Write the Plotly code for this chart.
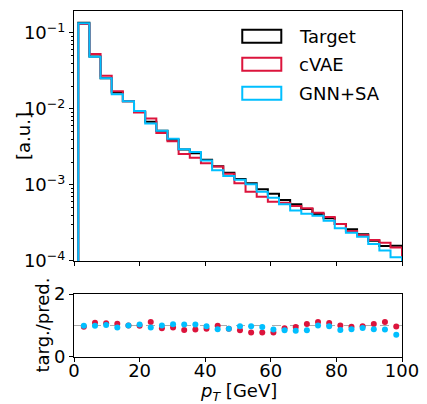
import plotly.graph_objects as go

bin_edges = [1.3, 4.7, 8.1, 11.5, 14.9, 18.3, 21.7, 25.1, 28.5, 31.9, 35.3, 38.7, 42.1,
             45.5, 48.9, 52.3, 55.7, 59.1, 62.5, 65.9, 69.3, 72.7, 76.1, 79.5, 82.9,
             86.3, 89.7, 93.1, 96.5, 100.0]

target = [0.136, 0.0489, 0.0253, 0.0165, 0.0126, 0.0091, 0.00681, 0.00516, 0.00394,
          0.00293, 0.00261, 0.00214, 0.00177, 0.00145, 0.00120, 0.00105, 0.000877,
          0.000769, 0.000635, 0.000557, 0.000483, 0.000415, 0.000365, 0.000307,
          0.000261, 0.000224, 0.000185, 0.000157, 0.000159]
cvae = [0.131, 0.0530, 0.0274, 0.0171, 0.0126, 0.00902, 0.00750, 0.00483, 0.00376,
        0.00256, 0.00229, 0.00193, 0.00175, 0.00140, 0.00105, 0.000817, 0.000702,
        0.000603, 0.000585, 0.000529, 0.000493, 0.000432, 0.000380, 0.000307,
        0.000248, 0.000220, 0.000189, 0.000174, 0.000151]
gnn_sa = [0.134, 0.0488, 0.0253, 0.01567, 0.0126, 0.00942, 0.00643, 0.00516, 0.00406,
          0.00295, 0.00272, 0.00210, 0.00156, 0.00131, 0.001175, 0.00102, 0.000817,
          0.000681, 0.000557, 0.000461, 0.000419, 0.000394, 0.000339, 0.000269,
          0.000236, 0.000209, 0.000167, 0.000137, 0.000112]

ratio_cvae = [0.96, 1.09, 1.07, 1.06, 1.0, 0.99, 1.11, 0.91, 0.94, 0.86, 0.87, 0.90, 0.99,
              0.90, 0.85, 0.78, 0.78, 0.78, 0.91, 0.95, 1.05, 1.11, 1.08, 1.0, 0.96,
              0.98, 1.05, 1.11, 0.97]
ratio_gnn = [0.99, 0.99, 1.02, 0.94, 1.0, 1.03, 0.94, 1.0, 1.04, 1.03, 1.03, 0.98, 0.88,
             0.90, 0.98, 0.98, 0.95, 0.87, 0.85, 0.83, 0.85, 1.0, 0.98, 0.86, 0.88,
             0.92, 0.88, 0.87, 0.71]

series = [("Target", target, "black"), ("cVAE", cvae, "#DC143C"), ("GNN+SA", gnn_sa, "#00BFFF")]

FLOOR = 1e-7


def step_path(edges, vals):
    xs, ys = [edges[0]], [FLOOR]
    for i, v in enumerate(vals):
        xs += [edges[i], edges[i + 1]]
        ys += [v, v]
    xs.append(edges[-1])
    ys.append(FLOOR)
    return xs, ys


centers = [(bin_edges[i] + bin_edges[i + 1]) / 2 for i in range(len(bin_edges) - 1)]

fig = go.Figure()
for name, vals, col in series:
    xs, ys = step_path(bin_edges, vals)
    fig.add_trace(go.Scatter(x=xs, y=ys, mode="lines", line=dict(color=col, width=2),
                             name=name, xaxis="x", yaxis="y", showlegend=False))

fig.add_trace(go.Scatter(x=centers, y=ratio_cvae, mode="markers",
                         marker=dict(color="#DC143C", size=6), xaxis="x2", yaxis="y2",
                         showlegend=False))
fig.add_trace(go.Scatter(x=centers, y=ratio_gnn, mode="markers",
                         marker=dict(color="#00BFFF", size=6), xaxis="x2", yaxis="y2",
                         showlegend=False))

font = dict(family="DejaVu Sans", size=18, color="black")

major = [1e-4, 1e-3, 1e-2, 1e-1]
major_txt = ["10<sup>\u22124</sup>", "10<sup>\u22123</sup>", "10<sup>\u22122</sup>", "10<sup>\u22121</sup>"]
minor_vals = [k * 10 ** e for e in range(-4, 0) for k in range(2, 10)]

axis_common = dict(showline=True, mirror=True, linecolor="black", linewidth=1,
                   showgrid=False, zeroline=False, ticks="outside", tickcolor="black",
                   tickfont=font, automargin=False)

fig.update_layout(
    width=427, height=404,
    margin=dict(l=74, r=25, t=11, b=47),
    paper_bgcolor="white", plot_bgcolor="white",
    font=font,
    showlegend=False,
    xaxis=dict(domain=[0, 1], range=[0, 100], anchor="y", matches="x2",
               showticklabels=False, ticklen=4, tickvals=[0, 20, 40, 60, 80, 100],
               **axis_common),
    yaxis=dict(domain=[0.2775, 1.0], type="log", range=[-4, -0.711], anchor="x",
               tickmode="array", tickvals=major, ticktext=major_txt, ticklen=4,
               minor=dict(tickmode="array", tickvals=minor_vals, ticks="outside",
                          ticklen=2, tickcolor="black", showgrid=False),
               **axis_common),
    xaxis2=dict(domain=[0, 1], range=[0, 100], anchor="y2",
                tickvals=[0, 20, 40, 60, 80, 100], ticklen=4, ticklabelstandoff=-7,
                **axis_common),
    yaxis2=dict(domain=[0, 0.182], range=[0, 2], anchor="x2",
                tickvals=[0, 2], ticklen=4, **axis_common),
)

# dashed reference line at ratio 1
fig.add_shape(type="line", xref="x2 domain", yref="y2", x0=0, x1=1, y0=1, y1=1,
              line=dict(color="#aaaaaa", width=1, dash="dash"), layer="below")

# legend (patch-style boxes)
leg_y = [0.899, 0.787, 0.671]
for (name, _, col), yc in zip(series, leg_y):
    fig.add_shape(type="rect", xref="x domain", yref="y domain",
                  x0=0.513, x1=0.632, y0=yc - 0.026, y1=yc + 0.026,
                  line=dict(color=col, width=2), fillcolor="rgba(0,0,0,0)")
    fig.add_annotation(text=name, xref="x domain", yref="y domain", x=0.68, y=yc,
                       xanchor="left", yanchor="middle", showarrow=False, font=font)

# axis titles
fig.add_annotation(text="[a.u.]", xref="paper", yref="paper", x=0, y=0.6388,
                   xshift=-50, textangle=-90, showarrow=False, font=font,
                   xanchor="center", yanchor="middle")
fig.add_annotation(text="targ./pred.", xref="paper", yref="paper", x=0, y=0.091,
                   xshift=-31, textangle=-90, showarrow=False, font=font,
                   xanchor="center", yanchor="middle")
fig.add_annotation(text="<i>p</i><sub><i>T</i></sub> [GeV]", xref="paper", yref="paper",
                   x=0.5, y=0, yshift=-35, showarrow=False, font=font,
                   xanchor="center", yanchor="middle")

fig.write_html("out.html", config={"displayModeBar": False},
               post_script="document.body.style.margin='0';document.body.style.overflow='hidden';")
